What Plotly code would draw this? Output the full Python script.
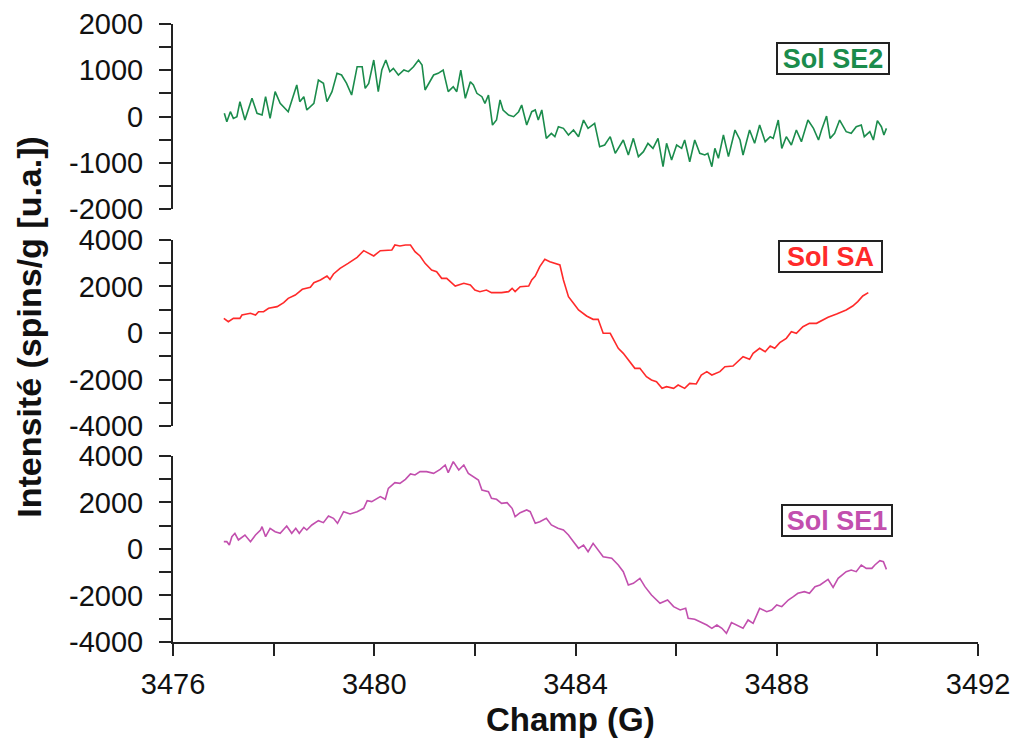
import plotly.graph_objects as go

# ---------------- data ----------------
# Sol SE2 (top panel, green)
field_se2 = [3477.02, 3477.07, 3477.14, 3477.20, 3477.27, 3477.33, 3477.43, 3477.57, 3477.67, 3477.77,
             3477.84, 3477.93, 3478.03, 3478.13, 3478.29, 3478.36, 3478.46, 3478.52, 3478.60, 3478.66,
             3478.80, 3478.89, 3478.99, 3479.06, 3479.16, 3479.26, 3479.35, 3479.45, 3479.55, 3479.66,
             3479.76, 3479.82, 3479.89, 3479.99, 3480.08, 3480.15, 3480.23, 3480.31, 3480.38, 3480.48,
             3480.59, 3480.68, 3480.78, 3480.88, 3480.95, 3481.01, 3481.11, 3481.18, 3481.27, 3481.37,
             3481.47, 3481.57, 3481.64, 3481.72, 3481.81, 3481.91, 3481.97, 3482.04, 3482.14, 3482.20,
             3482.27, 3482.35, 3482.43, 3482.50, 3482.56, 3482.67, 3482.77, 3482.87, 3482.93, 3483.03,
             3483.13, 3483.20, 3483.26, 3483.33, 3483.42, 3483.52, 3483.59, 3483.66, 3483.76, 3483.86,
             3483.96, 3484.06, 3484.16, 3484.25, 3484.38, 3484.48, 3484.58, 3484.69, 3484.79, 3484.95,
             3485.05, 3485.15, 3485.25, 3485.35, 3485.44, 3485.54, 3485.64, 3485.74, 3485.81, 3485.91,
             3486.01, 3486.11, 3486.17, 3486.27, 3486.37, 3486.47, 3486.57, 3486.63, 3486.71, 3486.77,
             3486.84, 3486.94, 3487.04, 3487.17, 3487.27, 3487.33, 3487.46, 3487.56, 3487.66, 3487.77,
             3487.87, 3487.93, 3488.03, 3488.10, 3488.19, 3488.29, 3488.39, 3488.49, 3488.62, 3488.73,
             3488.83, 3488.89, 3488.99, 3489.06, 3489.15, 3489.25, 3489.38, 3489.48, 3489.58, 3489.68,
             3489.74, 3489.85, 3489.92, 3490.00, 3490.08, 3490.13, 3490.18]
int_se2 = [69, -112, 104, -40, -4, 321, -76, 393, 69, 32,
           429, -40, 537, 285, 104, 357, 681, 321, 429, 141,
           285, 789, 717, 321, 537, 933, 897, 717, 465, 1077,
           1077, 609, 717, 1222, 537, 1005, 1222, 969, 1041, 897,
           1005, 969, 1077, 1222, 1113, 573, 753, 897, 933, 1005,
           537, 645, 537, 1005, 393, 753, 681, 501, 429, 285,
           465, -184, -76, 357, 141, 32, -4, 104, 249, -184,
           104, 141, -76, 141, -472, -364, -436, -220, -256, -400,
           -292, -436, -76, -256, -148, -652, -616, -436, -796, -508,
           -832, -472, -868, -760, -580, -688, -472, -1085, -580, -940,
           -616, -688, -508, -977, -508, -796, -832, -796, -1085, -688,
           -904, -400, -868, -292, -508, -832, -292, -580, -184, -544,
           -436, -472, -76, -688, -436, -616, -292, -544, -76, -256,
           -508, -292, 10, -472, -364, -76, -328, -364, -220, -184,
           -436, -328, -508, -90, -220, -400, -256]

# Sol SA (middle panel, red)
field_sa = [3477.01, 3477.10, 3477.20, 3477.33, 3477.37, 3477.54, 3477.64, 3477.70, 3477.80, 3477.90,
            3478.07, 3478.20, 3478.29, 3478.43, 3478.57, 3478.73, 3478.80, 3478.93, 3479.06, 3479.12,
            3479.19, 3479.32, 3479.48, 3479.66, 3479.79, 3479.89, 3479.99, 3480.12, 3480.25, 3480.35,
            3480.41, 3480.51, 3480.62, 3480.72, 3480.81, 3480.91, 3481.01, 3481.14, 3481.24, 3481.34,
            3481.44, 3481.61, 3481.78, 3481.91, 3482.00, 3482.10, 3482.23, 3482.33, 3482.53, 3482.67,
            3482.74, 3482.80, 3482.90, 3483.07, 3483.13, 3483.20, 3483.29, 3483.39, 3483.49, 3483.62,
            3483.69, 3483.76, 3483.86, 3483.96, 3484.06, 3484.22, 3484.35, 3484.45, 3484.55, 3484.69,
            3484.76, 3484.85, 3484.95, 3485.05, 3485.18, 3485.28, 3485.41, 3485.51, 3485.61, 3485.72,
            3485.81, 3485.95, 3486.04, 3486.17, 3486.27, 3486.40, 3486.50, 3486.61, 3486.71, 3486.87,
            3486.97, 3487.13, 3487.23, 3487.33, 3487.46, 3487.53, 3487.66, 3487.77, 3487.87, 3487.96,
            3488.06, 3488.19, 3488.29, 3488.39, 3488.52, 3488.65, 3488.79, 3488.89, 3489.02, 3489.19,
            3489.38, 3489.51, 3489.61, 3489.71, 3489.82]
int_sa = [631, 487, 631, 631, 774, 846, 774, 917, 917, 1061,
          1133, 1305, 1491, 1634, 1878, 1964, 2165, 2280, 2452, 2308,
          2538, 2781, 2996, 3254, 3541, 3426, 3312, 3541, 3570, 3570,
          3785, 3742, 3785, 3785, 3498, 3312, 2996, 2710, 2638, 2351,
          2351, 2021, 2136, 2065, 1849, 1778, 1849, 1735, 1735, 1778,
          1921, 1778, 1993, 2021, 2280, 2452, 2853, 3169, 3068, 2996,
          2925, 2280, 1563, 1276, 989, 731, 588, 588, -14, -14,
          -301, -659, -874, -1161, -1520, -1520, -1878, -2022, -2093, -2380,
          -2308, -2380, -2237, -2380, -2165, -2194, -1806, -1663, -1806, -1663,
          -1448, -1419, -1233, -1018, -1132, -874, -659, -803, -559, -659,
          -416, -229, 57, -14, 272, 416, 416, 530, 674, 817,
          989, 1161, 1348, 1592, 1735]

# Sol SE1 (bottom panel, magenta)
field_se1 = [3477.01, 3477.07, 3477.12, 3477.17, 3477.23, 3477.30, 3477.43, 3477.54, 3477.64, 3477.74,
             3477.77, 3477.84, 3477.93, 3478.03, 3478.13, 3478.26, 3478.36, 3478.44, 3478.51, 3478.60,
             3478.66, 3478.76, 3478.89, 3478.99, 3479.09, 3479.19, 3479.27, 3479.39, 3479.52, 3479.66,
             3479.79, 3479.86, 3479.95, 3480.05, 3480.12, 3480.22, 3480.28, 3480.41, 3480.51, 3480.62,
             3480.72, 3480.81, 3480.91, 3481.04, 3481.18, 3481.31, 3481.41, 3481.47, 3481.57, 3481.68,
             3481.78, 3481.87, 3481.97, 3482.07, 3482.14, 3482.27, 3482.33, 3482.43, 3482.53, 3482.64,
             3482.74, 3482.80, 3482.90, 3483.03, 3483.10, 3483.20, 3483.29, 3483.42, 3483.52, 3483.65,
             3483.76, 3483.86, 3483.96, 3484.06, 3484.16, 3484.25, 3484.35, 3484.45, 3484.55, 3484.72,
             3484.85, 3484.95, 3485.05, 3485.15, 3485.28, 3485.38, 3485.51, 3485.68, 3485.83, 3485.95,
             3486.08, 3486.19, 3486.24, 3486.37, 3486.47, 3486.61, 3486.71, 3486.81, 3486.91, 3487.00,
             3487.10, 3487.23, 3487.33, 3487.43, 3487.53, 3487.66, 3487.80, 3487.90, 3488.00, 3488.10,
             3488.23, 3488.33, 3488.42, 3488.55, 3488.65, 3488.76, 3488.86, 3489.02, 3489.12, 3489.22,
             3489.38, 3489.48, 3489.58, 3489.68, 3489.78, 3489.89, 3489.95, 3490.05, 3490.12, 3490.18]
int_se1 = [315, 315, 172, 530, 674, 387, 602, 315, 602, 817,
           961, 530, 889, 745, 674, 989, 674, 889, 674, 932,
           817, 1032, 1219, 1133, 1419, 1319, 1104, 1606, 1505, 1606,
           1749, 2079, 2036, 2179, 2251, 2136, 2609, 2853, 2824, 2996,
           3226, 3183, 3326, 3326, 3254, 3426, 3613, 3283, 3756, 3398,
           3613, 3254, 3111, 2968, 2538, 2466, 2179, 2136, 1964, 1993,
           1749, 1391, 1563, 1677, 1606, 1104, 1176, 1319, 1032, 889,
           817, 602, 315, 29, 172, -115, 244, -43, -330, -401,
           -688, -975, -1548, -1477, -1262, -1620, -1978, -2337, -2194, -2480,
           -2624, -2552, -2982, -3025, -3125, -3269, -3412, -3269, -3412, -3627,
           -3168, -3312, -3412, -3054, -3197, -2552, -2696, -2624, -2409, -2480,
           -2194, -2050, -1907, -1835, -1907, -1620, -1548, -1305, -1649, -1262,
           -975, -903, -975, -688, -832, -832, -688, -502, -545, -875]

assert len(field_se2) == len(int_se2)
assert len(field_sa) == len(int_sa)
assert len(field_se1) == len(int_se1)

series_names = ["Sol SE2", "Sol SA", "Sol SE1"]

# axis ticks
x_ticks = [3476, 3480, 3484, 3488, 3492]
x_minor = [3478, 3482, 3486, 3490]
se2_ticks = [-2000, -1000, 0, 1000, 2000]
se2_minor = [-1500, -500, 500, 1500]
big_ticks = [-4000, -2000, 0, 2000, 4000]
big_minor = [-3000, -1000, 1000, 3000]

x_title = "Champ (G)"
y_title = "Intensité (spins/g [u.a.])"

# ---------------- styling ----------------
GREEN = "#1b8c4c"
RED = "#ff2a2a"
MAGENTA = "#c24fae"
AXIS = "#222222"
FONT = "Liberation Sans, Arial, sans-serif"
TICKFONT = dict(family=FONT, size=29, color="#111111")

fig = go.Figure()
fig.add_trace(go.Scatter(x=field_se1, y=int_se1, mode="lines", name=series_names[2],
                         line=dict(color=MAGENTA, width=1.6), xaxis="x", yaxis="y"))
fig.add_trace(go.Scatter(x=field_sa, y=int_sa, mode="lines", name=series_names[1],
                         line=dict(color=RED, width=1.6), xaxis="x", yaxis="y2"))
fig.add_trace(go.Scatter(x=field_se2, y=int_se2, mode="lines", name=series_names[0],
                         line=dict(color=GREEN, width=1.6), xaxis="x", yaxis="y3"))


def yaxis(domain, rng, ticks, minor):
    return dict(domain=domain, range=rng, anchor="x", automargin=False,
                tickmode="array", tickvals=ticks, ticktext=[str(v) for v in ticks],
                ticks="outside", ticklen=12, tickwidth=2, tickcolor=AXIS,
                minor=dict(tickmode="array", tickvals=minor, ticks="outside",
                           ticklen=12, tickwidth=2, tickcolor=AXIS, showgrid=False),
                showline=True, linewidth=2, linecolor=AXIS,
                showgrid=False, zeroline=False, tickfont=TICKFONT,
                ticklabelstandoff=10)


fig.update_layout(
    width=1018, height=738,
    margin=dict(l=173, r=40, t=24, b=96),
    paper_bgcolor="white", plot_bgcolor="white",
    showlegend=False,
    xaxis=dict(domain=[0, 1], range=[3476, 3492], anchor="y", automargin=False,
               tickmode="array", tickvals=x_ticks, ticktext=[str(v) for v in x_ticks],
               ticks="outside", ticklen=12, tickwidth=2, tickcolor=AXIS,
               minor=dict(tickmode="array", tickvals=x_minor, ticks="outside",
                          ticklen=12, tickwidth=2, tickcolor=AXIS, showgrid=False),
               showline=True, linewidth=2, linecolor=AXIS,
               showgrid=False, zeroline=False, tickfont=TICKFONT,
               ticklabelstandoff=3),
    yaxis=yaxis([0, 0.301], [-4000, 4000], big_ticks, big_minor),
    yaxis2=yaxis([0.3495, 0.6505], [-4000, 4000], big_ticks, big_minor),
    yaxis3=yaxis([0.7006, 1], [-2000, 2000], se2_ticks, se2_minor),
)

label_specs = [
    (series_names[0], "y3", 3489.11, 1265, GREEN, 106),
    (series_names[1], "y2", 3489.07, 3269, RED, 97),
    (series_names[2], "y", 3489.19, 1204, MAGENTA, 104),
]
for text, yref, xv, yv, color, w in label_specs:
    fig.add_annotation(x=xv, y=yv, xref="x", yref=yref, text="<b>" + text + "</b>",
                       showarrow=False, font=dict(family=FONT, size=27, color=color),
                       bgcolor="white", bordercolor=AXIS, borderwidth=2, borderpad=2,
                       width=w, height=25, align="center")

fig.add_annotation(x=0.494, y=-0.125, xref="paper", yref="paper", text="<b>" + x_title + "</b>",
                   showarrow=False, xanchor="center", yanchor="middle",
                   font=dict(family=FONT, size=33, color="#111111"))
fig.add_annotation(x=-0.179, y=0.510, xref="paper", yref="paper", text="<b>" + y_title + "</b>",
                   showarrow=False, xanchor="center", yanchor="middle", textangle=-90,
                   font=dict(family=FONT, size=34, color="#111111"))

fig.write_html("out.html", config={"displayModeBar": False},
               post_script="document.body.style.margin='0';")
